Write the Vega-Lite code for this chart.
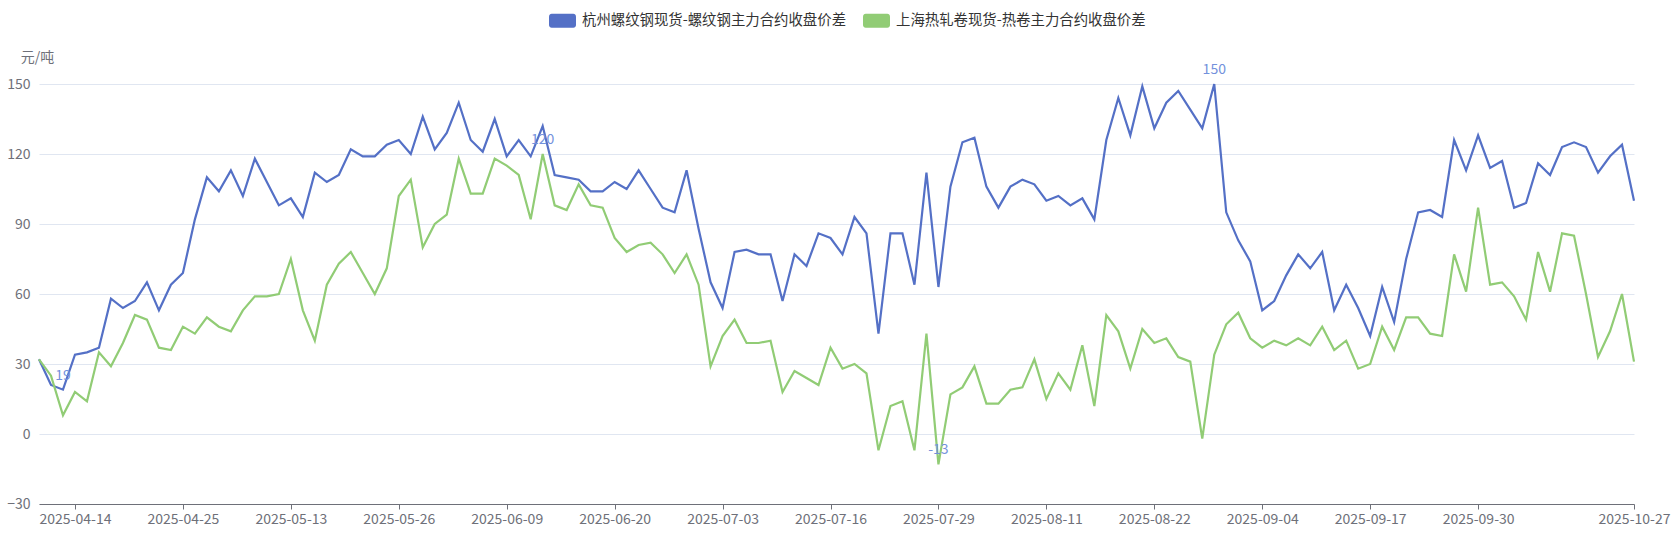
{
  "$schema": "https://vega.github.io/schema/vega-lite/v6.json",
  "width": 1595,
  "height": 420,
  "autosize": {"type": "none"},
  "padding": {"left": 39, "top": 84, "right": 45, "bottom": 33},
  "background": "#ffffff",
  "config": {
    "font": "Noto Sans CJK SC",
    "view": {"stroke": null}
  },
  "data": {
    "values": [
      {"d":"2025-04-09","hz":32,"sh":32},{"d":"2025-04-10","hz":21,"sh":25},{"d":"2025-04-11","hz":19,"sh":8},
      {"d":"2025-04-14","hz":34,"sh":18},{"d":"2025-04-15","hz":35,"sh":14},{"d":"2025-04-16","hz":37,"sh":35},
      {"d":"2025-04-17","hz":58,"sh":29},{"d":"2025-04-18","hz":54,"sh":39},{"d":"2025-04-21","hz":57,"sh":51},
      {"d":"2025-04-22","hz":65,"sh":49},{"d":"2025-04-23","hz":53,"sh":37},{"d":"2025-04-24","hz":64,"sh":36},
      {"d":"2025-04-25","hz":69,"sh":46},{"d":"2025-04-28","hz":92,"sh":43},{"d":"2025-04-29","hz":110,"sh":50},
      {"d":"2025-04-30","hz":104,"sh":46},{"d":"2025-05-06","hz":113,"sh":44},{"d":"2025-05-07","hz":102,"sh":53},
      {"d":"2025-05-08","hz":118,"sh":59},{"d":"2025-05-09","hz":108,"sh":59},{"d":"2025-05-12","hz":98,"sh":60},
      {"d":"2025-05-13","hz":101,"sh":75},{"d":"2025-05-14","hz":93,"sh":53},{"d":"2025-05-15","hz":112,"sh":40},
      {"d":"2025-05-16","hz":108,"sh":64},{"d":"2025-05-19","hz":111,"sh":73},{"d":"2025-05-20","hz":122,"sh":78},
      {"d":"2025-05-21","hz":119,"sh":69},{"d":"2025-05-22","hz":119,"sh":60},{"d":"2025-05-23","hz":124,"sh":71},
      {"d":"2025-05-26","hz":126,"sh":102},{"d":"2025-05-27","hz":120,"sh":109},{"d":"2025-05-28","hz":136,"sh":80},
      {"d":"2025-05-29","hz":122,"sh":90},{"d":"2025-05-30","hz":129,"sh":94},{"d":"2025-06-03","hz":142,"sh":118},
      {"d":"2025-06-04","hz":126,"sh":103},{"d":"2025-06-05","hz":121,"sh":103},{"d":"2025-06-06","hz":135,"sh":118},
      {"d":"2025-06-09","hz":119,"sh":115},{"d":"2025-06-10","hz":126,"sh":111},{"d":"2025-06-11","hz":119,"sh":92},
      {"d":"2025-06-12","hz":132,"sh":120},{"d":"2025-06-13","hz":111,"sh":98},{"d":"2025-06-16","hz":110,"sh":96},
      {"d":"2025-06-17","hz":109,"sh":107},{"d":"2025-06-18","hz":104,"sh":98},{"d":"2025-06-19","hz":104,"sh":97},
      {"d":"2025-06-20","hz":108,"sh":84},{"d":"2025-06-23","hz":105,"sh":78},{"d":"2025-06-24","hz":113,"sh":81},
      {"d":"2025-06-25","hz":105,"sh":82},{"d":"2025-06-26","hz":97,"sh":77},{"d":"2025-06-27","hz":95,"sh":69},
      {"d":"2025-06-30","hz":113,"sh":77},{"d":"2025-07-01","hz":88,"sh":64},{"d":"2025-07-02","hz":65,"sh":29},
      {"d":"2025-07-03","hz":54,"sh":42},{"d":"2025-07-04","hz":78,"sh":49},{"d":"2025-07-07","hz":79,"sh":39},
      {"d":"2025-07-08","hz":77,"sh":39},{"d":"2025-07-09","hz":77,"sh":40},{"d":"2025-07-10","hz":57,"sh":18},
      {"d":"2025-07-11","hz":77,"sh":27},{"d":"2025-07-14","hz":72,"sh":24},{"d":"2025-07-15","hz":86,"sh":21},
      {"d":"2025-07-16","hz":84,"sh":37},{"d":"2025-07-17","hz":77,"sh":28},{"d":"2025-07-18","hz":93,"sh":30},
      {"d":"2025-07-21","hz":86,"sh":26},{"d":"2025-07-22","hz":43,"sh":-7},{"d":"2025-07-23","hz":86,"sh":12},
      {"d":"2025-07-24","hz":86,"sh":14},{"d":"2025-07-25","hz":64,"sh":-7},{"d":"2025-07-28","hz":112,"sh":43},
      {"d":"2025-07-29","hz":63,"sh":-13},{"d":"2025-07-30","hz":106,"sh":17},{"d":"2025-07-31","hz":125,"sh":20},
      {"d":"2025-08-01","hz":127,"sh":29},{"d":"2025-08-04","hz":106,"sh":13},{"d":"2025-08-05","hz":97,"sh":13},
      {"d":"2025-08-06","hz":106,"sh":19},{"d":"2025-08-07","hz":109,"sh":20},{"d":"2025-08-08","hz":107,"sh":32},
      {"d":"2025-08-11","hz":100,"sh":15},{"d":"2025-08-12","hz":102,"sh":26},{"d":"2025-08-13","hz":98,"sh":19},
      {"d":"2025-08-14","hz":101,"sh":38},{"d":"2025-08-15","hz":92,"sh":12},{"d":"2025-08-18","hz":126,"sh":51},
      {"d":"2025-08-19","hz":144,"sh":44},{"d":"2025-08-20","hz":128,"sh":28},{"d":"2025-08-21","hz":149,"sh":45},
      {"d":"2025-08-22","hz":131,"sh":39},{"d":"2025-08-25","hz":142,"sh":41},{"d":"2025-08-26","hz":147,"sh":33},
      {"d":"2025-08-27","hz":139,"sh":31},{"d":"2025-08-28","hz":131,"sh":-2},{"d":"2025-08-29","hz":150,"sh":34},
      {"d":"2025-09-01","hz":95,"sh":47},{"d":"2025-09-02","hz":83,"sh":52},{"d":"2025-09-03","hz":74,"sh":41},
      {"d":"2025-09-04","hz":53,"sh":37},{"d":"2025-09-05","hz":57,"sh":40},{"d":"2025-09-08","hz":68,"sh":38},
      {"d":"2025-09-09","hz":77,"sh":41},{"d":"2025-09-10","hz":71,"sh":38},{"d":"2025-09-11","hz":78,"sh":46},
      {"d":"2025-09-12","hz":53,"sh":36},{"d":"2025-09-15","hz":64,"sh":40},{"d":"2025-09-16","hz":54,"sh":28},
      {"d":"2025-09-17","hz":42,"sh":30},{"d":"2025-09-18","hz":63,"sh":46},{"d":"2025-09-19","hz":48,"sh":36},
      {"d":"2025-09-22","hz":75,"sh":50},{"d":"2025-09-23","hz":95,"sh":50},{"d":"2025-09-24","hz":96,"sh":43},
      {"d":"2025-09-25","hz":93,"sh":42},{"d":"2025-09-26","hz":126,"sh":77},{"d":"2025-09-29","hz":113,"sh":61},
      {"d":"2025-09-30","hz":128,"sh":97},{"d":"2025-10-09","hz":114,"sh":64},{"d":"2025-10-10","hz":117,"sh":65},
      {"d":"2025-10-13","hz":97,"sh":59},{"d":"2025-10-14","hz":99,"sh":49},{"d":"2025-10-15","hz":116,"sh":78},
      {"d":"2025-10-16","hz":111,"sh":61},{"d":"2025-10-17","hz":123,"sh":86},{"d":"2025-10-20","hz":125,"sh":85},
      {"d":"2025-10-21","hz":123,"sh":60},{"d":"2025-10-22","hz":112,"sh":33},{"d":"2025-10-23","hz":119,"sh":44},
      {"d":"2025-10-24","hz":124,"sh":60},{"d":"2025-10-27","hz":100,"sh":31}
    ]
  },
  "transform": [
    {"fold": ["hz", "sh"], "as": ["k", "v"]}
  ],
  "encoding": {
    "x": {
      "field": "d",
      "type": "ordinal",
      "sort": null,
      "scale": {"type": "point", "padding": 0},
      "axis": {
        "title": null,
        "values": ["2025-04-14","2025-04-25","2025-05-13","2025-05-26","2025-06-09","2025-06-20","2025-07-03","2025-07-16","2025-07-29","2025-08-11","2025-08-22","2025-09-04","2025-09-17","2025-09-30","2025-10-27"],
        "labelAngle": 0,
        "labelFontSize": 14,
        "labelColor": "#6E7079",
        "labelPadding": 3,
        "tickSize": 5,
        "tickColor": "#6E7079",
        "domainColor": "#6E7079",
        "grid": false
      }
    },
    "y": {
      "field": "v",
      "type": "quantitative",
      "scale": {"domain": [-30, 150], "nice": false, "zero": false},
      "axis": {
        "values": [-30, 0, 30, 60, 90, 120, 150],
        "title": "元/吨",
        "titleAngle": 0,
        "titleAlign": "center",
        "titleBaseline": "middle",
        "titleX": -2,
        "titleY": -27,
        "titleFontSize": 14,
        "titleFontWeight": "normal",
        "titleColor": "#6E7079",
        "labelFontSize": 14,
        "labelColor": "#6E7079",
        "labelPadding": 9,
        "ticks": false,
        "domain": false,
        "grid": true,
        "gridColor": "#E0E6F1"
      }
    }
  },
  "layer": [
    {
      "mark": {"type": "line", "strokeWidth": 2.2},
      "encoding": {
        "color": {
          "field": "k",
          "type": "nominal",
          "scale": {"domain": ["hz", "sh"], "range": ["#5470c6", "#91cc75"]},
          "legend": {
            "title": null,
            "orient": "none",
            "direction": "horizontal",
            "legendX": 510,
            "legendY": -77,
            "labelExpr": "datum.value == 'hz' ? '杭州螺纹钢现货-螺纹钢主力合约收盘价差' : '上海热轧卷现货-热卷主力合约收盘价差'",
            "labelFontSize": 14.4,
            "labelColor": "#333333",
            "labelLimit": 0,
            "labelOffset": 6,
            "columnPadding": 16,
            "symbolType": "M-0.8,-0.52H0.8A0.2,0.2,0,0,1,1,-0.32V0.32A0.2,0.2,0,0,1,0.8,0.52H-0.8A0.2,0.2,0,0,1,-1,0.32V-0.32A0.2,0.2,0,0,1,-0.8,-0.52Z",
            "symbolSize": 729,
            "symbolStrokeWidth": 0,
            "encode": {
              "symbols": {"update": {"fill": {"scale": "color", "field": "value"}, "strokeWidth": {"value": 0}}}
            }
          }
        }
      }
    },
    {
      "transform": [
        {"joinaggregate": [{"op": "max", "field": "v", "as": "mx"}, {"op": "min", "field": "v", "as": "mn"}], "groupby": ["k"]},
        {"filter": "datum.v == datum.mx || datum.v == datum.mn"}
      ],
      "mark": {"type": "text", "dy": -14, "fontSize": 14, "color": "#7391dc", "baseline": "middle", "align": "center"},
      "encoding": {
        "text": {"field": "v", "type": "nominal"}
      }
    }
  ]
}
